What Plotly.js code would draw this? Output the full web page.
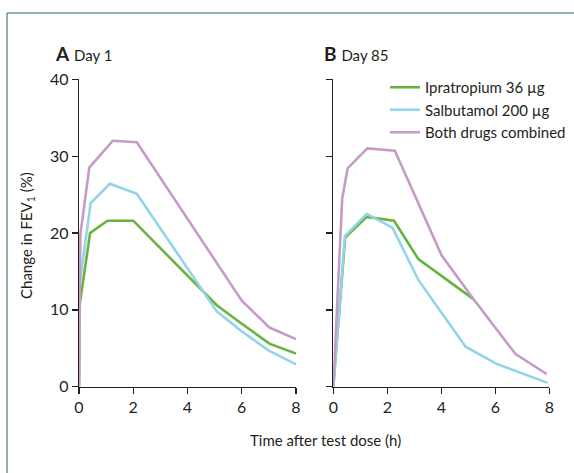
<!DOCTYPE html>
<html>
<head>
<meta charset="utf-8">
<script src="https://cdn.plot.ly/plotly-3.0.1.min.js"></script>
<style>html,body{margin:0;padding:0;background:#fff}#chart{width:574px;height:473px}</style>
</head>
<body>
<div id="chart"></div>
<script>
// Panel A – Day 1
var A_ipra_t = [0, 0.03, 0.41, 1.05, 2.0, 3, 4, 5.08, 6.0, 7.02, 8];
var A_ipra   = [0, 10.8, 20.0, 21.6, 21.6, 18.0, 14.4, 10.6, 8.2, 5.6, 4.3];
var A_salb_t = [0, 0.03, 0.43, 1.14, 2.13, 3, 4, 5.08, 6.0, 7.0, 8];
var A_salb   = [0, 13.5, 23.9, 26.4, 25.1, 20.6, 15.5, 9.8, 7.2, 4.7, 2.9];
var A_both_t = [0, 0.05, 0.38, 1.24, 2.13, 3, 4, 5, 6.0, 7.02, 8];
var A_both   = [0, 19.8, 28.5, 32.0, 31.8, 27.2, 21.9, 16.5, 11.2, 7.7, 6.2];
// Panel B – Day 85
var B_ipra_t = [0, 0.44, 1.24, 2.25, 3.15, 5.19];
var B_ipra   = [0, 19.4, 22.1, 21.6, 16.6, 11.4];
var B_salb_t = [0, 0.43, 1.24, 2.19, 3.15, 4.9, 6.03, 7.94];
var B_salb   = [0, 19.6, 22.5, 20.7, 13.9, 5.2, 3.0, 0.5];
var B_both_t = [0, 0.33, 0.53, 1.26, 2.28, 4.01, 5.19, 6.75, 7.9];
var B_both   = [0, 24.5, 28.4, 31.0, 30.7, 17.1, 11.4, 4.25, 1.65];

var names = ['Ipratropium 36 \u00b5g', 'Salbutamol 200 \u00b5g', 'Both drugs combined'];
var colors = ['#66b43f', '#93d4e8', '#c59cc8'];
var xTicks = [0, 2, 4, 6, 8];
var yTicks = [0, 10, 20, 30, 40];
var panelLabels = ['<b>A</b>', '<b>B</b>'];
var panelDays = ['Day 1', 'Day 85'];

var FONT = 'Lato, "Open Sans", sans-serif';
var TXT = '#231f20';

function tr(x, y, i, xa, ya, show) {
  return {x: x, y: y, name: names[i], type: 'scatter', mode: 'lines',
    xaxis: xa, yaxis: ya, showlegend: show, legendgroup: 'g' + i,
    line: {color: colors[i], width: 2.6}, cliponaxis: false, hoverinfo: 'skip'};
}
var data = [
  tr(A_ipra_t, A_ipra, 0, 'x', 'y', true),
  tr(A_salb_t, A_salb, 1, 'x', 'y', true),
  tr(A_both_t, A_both, 2, 'x', 'y', true),
  tr(B_ipra_t, B_ipra, 0, 'x2', 'y2', false),
  tr(B_salb_t, B_salb, 1, 'x2', 'y2', false),
  tr(B_both_t, B_both, 2, 'x2', 'y2', false)
];

var W = 574, H = 473;
function px(x) { return x / W; }
function py(y) { return 1 - y / H; }

var xBase = {range: [0, 8], tickvals: xTicks, ticktext: xTicks.map(String), showgrid: false, zeroline: false,
  showline: true, linecolor: '#231f20', linewidth: 1.3, ticks: 'outside', ticklen: 6, tickwidth: 1.3,
  tickcolor: '#231f20', tickfont: {family: FONT, size: 16, color: TXT}, fixedrange: true};
var yBase = {range: [0, 40], tickvals: yTicks, showgrid: false, zeroline: false,
  showline: true, linecolor: '#231f20', linewidth: 1.3, ticks: 'outside', ticklen: 6, tickwidth: 1.3,
  tickcolor: '#231f20', tickfont: {family: FONT, size: 16, color: TXT}, fixedrange: true};

var layout = {
  width: W, height: H,
  margin: {l: 0, r: 0, t: 0, b: 0},
  paper_bgcolor: '#ffffff', plot_bgcolor: '#ffffff',
  font: {family: FONT, color: TXT},
  xaxis: Object.assign({}, xBase, {domain: [px(79), px(296)], anchor: 'y'}),
  yaxis: Object.assign({}, yBase, {domain: [py(386.7), py(79.3)], anchor: 'x', ticktext: yTicks.map(String)}),
  xaxis2: Object.assign({}, xBase, {domain: [px(333.3), px(549.3)], anchor: 'y2'}),
  yaxis2: Object.assign({}, yBase, {domain: [py(386.7), py(79.3)], anchor: 'x2', showticklabels: false}),
  showlegend: true,
  legend: {x: px(385), y: py(71), xanchor: 'left', yanchor: 'top', bgcolor: 'rgba(0,0,0,0)',
    font: {family: FONT, size: 15, color: TXT}, tracegroupgap: 0, itemclick: false, itemdoubleclick: false},
  annotations: [
    {text: panelLabels[0] + ' <span style="font-size:15px">' + panelDays[0] + '</span>', xref: 'paper', yref: 'paper',
      x: px(53), y: py(53), xanchor: 'left', yanchor: 'middle', showarrow: false,
      font: {family: FONT, size: 19, color: TXT}},
    {text: panelLabels[1] + ' <span style="font-size:15px">' + panelDays[1] + '</span>', xref: 'paper', yref: 'paper',
      x: px(322), y: py(53), xanchor: 'left', yanchor: 'middle', showarrow: false,
      font: {family: FONT, size: 19, color: TXT}},
    {text: 'Change in FEV<sub>1</sub> (%)', xref: 'paper', yref: 'paper', x: px(27), y: py(236),
      xanchor: 'center', yanchor: 'middle', textangle: -90, showarrow: false,
      font: {family: FONT, size: 15, color: TXT}},
    {text: 'Time after test dose (h)', xref: 'paper', yref: 'paper', x: px(325), y: py(440),
      xanchor: 'center', yanchor: 'middle', showarrow: false,
      font: {family: FONT, size: 15, color: TXT}}
  ],
  shapes: [
    {type: 'line', xref: 'paper', yref: 'paper', x0: px(7), x1: 1, y0: py(13), y1: py(13),
      line: {color: '#5fa286', width: 1.5}},
    {type: 'line', xref: 'paper', yref: 'paper', x0: px(7), x1: px(7), y0: py(13), y1: 0,
      line: {color: '#5fa286', width: 1.5}}
  ]
};

Plotly.newPlot('chart', data, layout, {displayModeBar: false, staticPlot: true});
</script>
</body>
</html>
